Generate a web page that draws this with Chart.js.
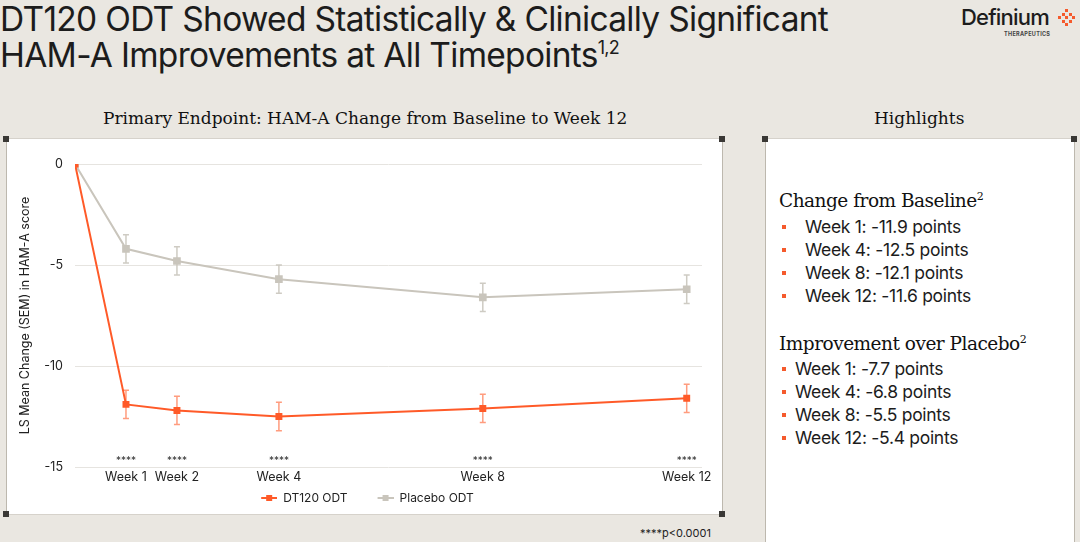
<!DOCTYPE html>
<html>
<head>
<meta charset="utf-8">
<script src="https://cdn.jsdelivr.net/npm/chart.js@4"></script>
<style>
  html, body { margin: 0; padding: 0; }
  body { width: 1080px; height: 542px; background: #eae7e1; position: relative; overflow: hidden; font-family: Inter, "Noto Sans", sans-serif; color: #1c1c1c; }
  .title { position: absolute; left: 0; top: 1px; font-size: 33.5px; line-height: 36px; letter-spacing: -0.7px; font-weight: 400; }
  .title sup { font-size: 18px; vertical-align: 13px; line-height: 0; }
  .logo { position: absolute; left: 961px; top: 4px; }
  .logo .name { font-size: 22px; letter-spacing: -0.8px; font-weight: 500; }
  .logo .sub { position: absolute; left: 43px; top: 27px; font-size: 5.5px; font-weight: 700; letter-spacing: 0.3px; color: #444; }
  .dots { position: absolute; left: 1058px; top: 9px; width: 18px; height: 18px; }
  .dots span { position: absolute; width: 3px; height: 3px; background: #f55a2c; }
  .head { position: absolute; top: 108px; font-family: "DejaVu Serif", serif; font-size: 17px; color: #111; }
  .panel { position: absolute; background: #fff; border: 1px solid #d6d2cb; border-left-color: #bdb8ae; border-right-color: #bdb8ae; }
  .corner { position: absolute; width: 6px; height: 6px; background: #3a3835; }
  #chartWrap { position: absolute; left: 7px; top: 139px; width: 715px; height: 375px; }
  .hl { position: absolute; left: 779px; font-size: 17.5px; color: #1c1c1c; }
  .hl h3 { margin: 0; font-family: "DejaVu Serif", serif; font-weight: 400; font-size: 18.5px; line-height: 22px; letter-spacing: -0.5px; color: #111; }
  .hl h3 sup { font-size: 11px; vertical-align: 7px; line-height: 0; }
  .hl ul { list-style: none; margin: 3px 0 0 0; padding: 0; }
  .hl li { position: relative; line-height: 23px; letter-spacing: -0.3px; }
  .hl li::before { content: ""; position: absolute; top: 10px; width: 4px; height: 4px; background: #f55a2c; }
  #listBaseline li::before { left: -23px; }
  #listPlacebo li::before { left: -13px; }
  .foot { position: absolute; left: 640px; top: 526px; font-size: 11px; color: #222; }
</style>
</head>
<body>
<div class="title">DT120 ODT Showed Statistically &amp; Clinically Significant<br>HAM-A Improvements at All Timepoints<sup>1,2</sup></div>
<div class="logo"><span class="name">Definium</span><div class="sub">THERAPEUTICS</div></div>
<div class="dots" id="dots"></div>

<div class="head" style="left:103px;">Primary Endpoint: HAM-A Change from Baseline to Week 12</div>
<div class="head" style="left:874px;">Highlights</div>

<div class="panel" style="left:6px; top:138px; width:715px; height:375px;"></div>
<div class="panel" style="left:765px; top:138px; width:308px; height:410px;"></div>
<div class="corner" style="left:3px; top:136px;"></div>
<div class="corner" style="left:3px; top:511px;"></div>
<div class="corner" style="left:719px; top:136px;"></div>
<div class="corner" style="left:719px; top:511px;"></div>
<div class="corner" style="left:762px; top:136px;"></div>
<div class="corner" style="left:1071px; top:136px;"></div>

<div id="chartWrap"><canvas id="chart"></canvas></div>

<div class="hl" style="top:190px;">
  <h3>Change from Baseline<sup>2</sup></h3>
  <ul id="listBaseline" style="padding-left:26px;"></ul>
</div>
<div class="hl" style="top:333px;">
  <h3>Improvement over Placebo<sup>2</sup></h3>
  <ul id="listPlacebo" style="padding-left:16px; margin-top:2px;"></ul>
</div>

<div class="foot">****p&lt;0.0001</div>

<script>
// chart data
const weeks = [0, 1, 2, 4, 8, 12];
const tickWeeks = [1, 2, 4, 8, 12];
const dt120 = [0, -11.9, -12.2, -12.5, -12.1, -11.6];
const dt120Err = [0, 0.7, 0.7, 0.7, 0.7, 0.7];
const placebo = [0, -4.2, -4.8, -5.7, -6.6, -6.2];
const placeboErr = [0, 0.7, 0.7, 0.7, 0.7, 0.7];
const yTicks = [0, -5, -10, -15];

// highlights
const baselineItems = ['Week 1: -11.9 points', 'Week 4: -12.5 points', 'Week 8: -12.1 points', 'Week 12: -11.6 points'];
const placeboItems = ['Week 1: -7.7 points', 'Week 4: -6.8 points', 'Week 8: -5.5 points', 'Week 12: -5.4 points'];

const ORANGE = '#ff5a28';
const GREY = '#c9c5bc';

function fillList(id, items) {
    const ul = document.getElementById(id);
    items.forEach(t => {
        const li = document.createElement('li');
        li.textContent = t;
        ul.appendChild(li);
    });
}
fillList('listBaseline', baselineItems);
fillList('listPlacebo', placeboItems);

// logo dots (diamond)
const dotPattern = ['..x..', '.x.x.', 'x.x.x', '.x.x.', '..x..'];
const dots = document.getElementById('dots');
dotPattern.forEach((row, r) => {
    [...row].forEach((c, i) => {
        if (c === 'x') {
            const s = document.createElement('span');
            s.style.left = (i * 3.6) + 'px';
            s.style.top = (r * 3.6) + 'px';
            dots.appendChild(s);
        }
    });
});

// legend swatch: short line with a square, blank space on the left
const ICON_W = 42;
function legendIcon(color) {
    const c = document.createElement('canvas');
    c.width = ICON_W; c.height = 8;
    const g = c.getContext('2d');
    g.strokeStyle = color; g.lineWidth = 2;
    g.beginPath(); g.moveTo(ICON_W - 16, 4); g.lineTo(ICON_W, 4); g.stroke();
    g.fillStyle = color; g.fillRect(ICON_W - 11, 1, 6, 6);
    return c;
}

const errorBars = {
    id: 'errorBars',
    beforeDatasetsDraw(chart) {
        const { ctx, scales: { x, y } } = chart;
        const errs = [dt120Err, placeboErr];
        const cols = ['rgba(255,90,40,0.6)', 'rgba(201,197,188,0.9)'];
        chart.data.datasets.forEach((ds, di) => {
            ctx.save();
            ctx.strokeStyle = cols[di];
            ctx.lineWidth = 1.5;
            ds.data.forEach((p, i) => {
                const e = errs[di][i];
                if (!e) return;
                const px = x.getPixelForValue(p.x);
                const top = y.getPixelForValue(p.y + e);
                const bot = y.getPixelForValue(p.y - e);
                ctx.beginPath();
                ctx.moveTo(px, top); ctx.lineTo(px, bot);
                ctx.moveTo(px - 3, top); ctx.lineTo(px + 3, top);
                ctx.moveTo(px - 3, bot); ctx.lineTo(px + 3, bot);
                ctx.stroke();
            });
            ctx.restore();
        });
    }
};

const stars = {
    id: 'stars',
    afterDatasetsDraw(chart) {
        const { ctx, scales: { x, y } } = chart;
        ctx.save();
        ctx.fillStyle = '#333';
        ctx.font = '10px Inter, sans-serif';
        ctx.textAlign = 'center';
        ctx.textBaseline = 'middle';
        tickWeeks.forEach(w => {
            ctx.fillText('****', x.getPixelForValue(w), y.getPixelForValue(-15) - 6);
        });
        ctx.restore();
    }
};

new Chart(document.getElementById('chart'), {
    type: 'line',
    data: {
        datasets: [{
            label: 'DT120 ODT',
            data: weeks.map((w, i) => ({ x: w, y: dt120[i] })),
            borderColor: ORANGE,
            backgroundColor: ORANGE,
            borderWidth: 2,
            pointStyle: 'rect',
            pointRadius: 3.5,
            pointHoverRadius: 3.5
        }, {
            label: 'Placebo ODT',
            data: weeks.map((w, i) => ({ x: w, y: placebo[i] })),
            borderColor: GREY,
            backgroundColor: GREY,
            borderWidth: 2,
            pointStyle: 'rect',
            pointRadius: 4,
            pointHoverRadius: 4
        }]
    },
    options: {
        responsive: true,
        maintainAspectRatio: false,
        animation: false,
        layout: { padding: { top: 25, right: 20, left: 0, bottom: 0 } },
        scales: {
            x: {
                type: 'linear',
                min: 0,
                max: 12.3,
                afterBuildTicks(axis) { axis.ticks = tickWeeks.map(v => ({ value: v })); },
                ticks: {
                    autoSkip: false,
                    maxRotation: 0,
                    padding: 3,
                    color: '#222',
                    font: { family: 'Inter', size: 12.5 },
                    callback: v => 'Week ' + v
                },
                grid: { display: false, drawTicks: false },
                border: { display: false }
            },
            y: {
                min: -15,
                max: 0,
                afterBuildTicks(axis) { axis.ticks = yTicks.map(v => ({ value: v })); },
                afterFit(axis) { axis.width = 68; },
                ticks: { color: '#222', padding: 12, font: { family: 'Inter', size: 12.5 } },
                grid: { color: '#e6e4e0', lineWidth: 1, drawTicks: false },
                border: { display: false },
                title: {
                    display: true,
                    text: 'LS Mean Change (SEM) in HAM-A score',
                    color: '#222',
                    font: { family: 'Inter', size: 12.5 },
                    padding: { top: 11, bottom: 0 }
                }
            }
        },
        plugins: {
            legend: {
                position: 'bottom',
                labels: {
                    usePointStyle: true,
                    pointStyleWidth: ICON_W,
                    boxHeight: 8,
                    padding: 4,
                    color: '#222',
                    font: { family: 'Inter', size: 12 },
                    generateLabels(chart) {
                        const items = Chart.defaults.plugins.legend.labels.generateLabels(chart);
                        items.forEach((it, i) => {
                            it.pointStyle = legendIcon(i === 0 ? ORANGE : GREY);
                        });
                        return items;
                    }
                }
            },
            tooltip: { enabled: false }
        }
    },
    plugins: [errorBars, stars]
});
</script>
</body>
</html>
